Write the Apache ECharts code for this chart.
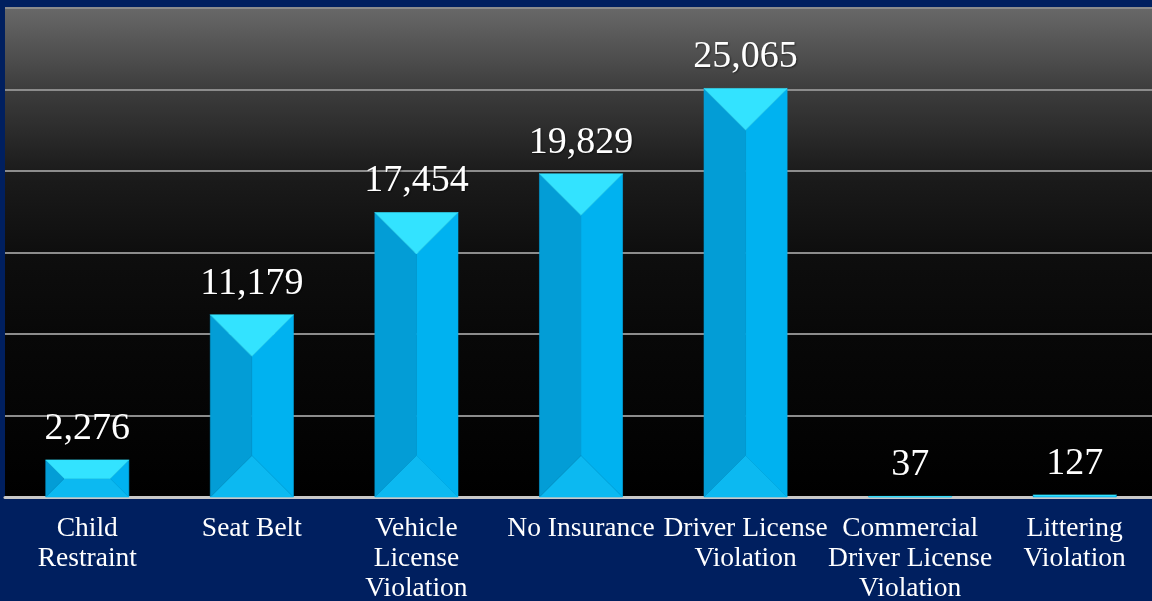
<!DOCTYPE html>
<html>
<head>
<meta charset="utf-8">
<script src="https://cdn.jsdelivr.net/npm/echarts@6/dist/echarts.min.js"></script>
<style>
  html, body { margin: 0; padding: 0; background: #001f5f; }
  #chart { width: 1152px; height: 601px; }
</style>
</head>
<body>
<div id="chart"></div>
<script>
  // violation categories (line breaks as in the original slide)
  var categories = [
    'Child\nRestraint',
    'Seat Belt',
    'Vehicle\nLicense\nViolation',
    'No Insurance',
    'Driver License\nViolation',
    'Commercial\nDriver License\nViolation',
    'Littering\nViolation'
  ];
  var counts = [2276, 11179, 17454, 19829, 25065, 37, 127];
  var yTicks = [0, 5000, 10000, 15000, 20000, 25000, 30000];

  var chart = echarts.init(document.getElementById('chart'));

  // bevelled bar: top, left, right, bottom faces plus the front face
  function bevelBar(params, api) {
    var base = api.coord([api.value(0), 0]);
    var top = api.coord([api.value(0), api.value(1)]);
    var w = api.size([1, 0])[0] * 0.505;
    var L = base[0] - w / 2, R = base[0] + w / 2;
    var y0 = base[1], y1 = top[1];
    var h = y0 - y1;
    var b = Math.min(w / 2, h / 2);
    function poly(points, color) {
      return {
        type: 'polygon',
        shape: { points: points },
        style: { fill: color, stroke: color, lineWidth: 0.6 }
      };
    }
    return {
      type: 'group',
      children: [
        { type: 'rect', shape: { x: L + b, y: y1 + b, width: Math.max(w - 2 * b, 0), height: Math.max(h - 2 * b, 0) }, style: { fill: '#00b0f0' } },
        poly([[L + b, y0 - b], [R - b, y0 - b], [R, y0], [L, y0]], '#0cb9f1'),
        poly([[R, y1], [R, y0], [R - b, y0 - b], [R - b, y1 + b]], '#00b2f0'),
        poly([[L, y1], [L + b, y1 + b], [L + b, y0 - b], [L, y0]], '#039dd6'),
        poly([[L, y1], [R, y1], [R - b, y1 + b], [L + b, y1 + b]], '#33e3ff')
      ]
    };
  }

  var option = {
    backgroundColor: '#001f5f',
    animation: false,
    grid: {
      left: 5,
      right: -5,
      top: 8,
      bottom: 104,
      show: true,
      borderWidth: 0,
      outerBoundsMode: 'none',
      backgroundColor: new echarts.graphic.LinearGradient(0, 0, 0, 1, [
        { offset: 0, color: '#686868' },
        { offset: 0.17, color: '#3c3c3c' },
        { offset: 0.33, color: '#1c1c1c' },
        { offset: 0.5, color: '#0e0e0e' },
        { offset: 0.67, color: '#080808' },
        { offset: 1, color: '#000000' }
      ])
    },
    xAxis: {
      type: 'category',
      data: categories,
      axisTick: { show: false },
      axisLine: { lineStyle: { color: '#c8c8c8', width: 3 } },
      axisLabel: {
        interval: 0,
        color: '#ffffff',
        fontFamily: 'Liberation Serif',
        fontSize: 27.5,
        lineHeight: 30,
        margin: 17
      }
    },
    yAxis: {
      type: 'value',
      min: yTicks[0],
      max: yTicks[yTicks.length - 1],
      interval: yTicks[1] - yTicks[0],
      axisLabel: { show: false },
      axisLine: { show: false },
      axisTick: { show: false },
      splitLine: { lineStyle: { color: '#8c8c8c', width: 2 } }
    },
    series: [
      {
        type: 'custom',
        renderItem: bevelBar,
        data: counts.map(function (v, i) { return [i, v]; }),
        z: 2
      },
      {
        // invisible bars, only carry the value labels
        type: 'bar',
        data: counts,
        barWidth: '50.5%',
        itemStyle: { color: 'rgba(0,0,0,0)' },
        z: 3,
        label: {
          show: true,
          position: 'top',
          distance: 12,
          color: '#ffffff',
          fontFamily: 'Liberation Serif',
          fontSize: 38,
          textShadowColor: 'rgba(0,0,0,0.5)',
          textShadowBlur: 2,
          textShadowOffsetX: 1,
          textShadowOffsetY: 1,
          formatter: function (p) { return p.value.toLocaleString('en-US'); }
        }
      }
    ]
  };

  chart.setOption(option);
</script>
</body>
</html>
